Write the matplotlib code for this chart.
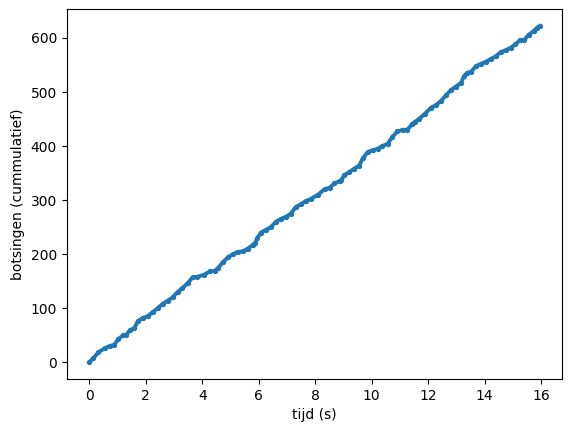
import numpy as np
import matplotlib
matplotlib.use("Agg")
from matplotlib import pyplot as plt

# tijd (s) en cumulatief aantal botsingen
tijd = [0.00, 0.14, 0.32, 0.55, 0.73, 0.88, 1.02, 1.20, 1.31, 1.43,
        1.60, 1.72, 1.90, 2.07, 2.25, 2.43, 2.60, 2.78, 2.95, 3.13,
        3.30, 3.48, 3.66, 3.83, 4.07, 4.27, 4.44, 4.56, 4.73, 4.91,
        5.09, 5.26, 5.44, 5.61, 5.79, 5.88, 5.94, 6.08, 6.26, 6.43,
        6.61, 6.78, 6.96, 7.14, 7.31, 7.49, 7.66, 7.84, 8.10, 8.33,
        8.51, 8.68, 8.86, 8.92, 9.03, 9.21, 9.38, 9.56, 9.68, 9.86,
        10.03, 10.21, 10.38, 10.56, 10.73, 10.91, 11.09, 11.26, 11.44, 11.54,
        11.67, 11.87, 12.10, 12.28, 12.46, 12.63, 12.81, 12.98, 13.16, 13.28,
        13.39, 13.51, 13.69, 13.86, 14.04, 14.21, 14.39, 14.57, 14.74, 14.92,
        15.09, 15.24, 15.39, 15.56, 15.74, 15.85, 15.95]
botsingen = [0, 7, 18, 26, 30, 32, 42, 50, 50, 59,
             63, 76, 82, 85, 93, 100, 108, 114, 120, 130,
             137, 146, 157, 158, 162, 168, 169, 174, 185, 194,
             200, 204, 205, 210, 217, 221, 229, 240, 245, 250,
             260, 265, 269, 275, 287, 292, 298, 302, 310, 320,
             323, 331, 335, 337, 346, 352, 358, 364, 377, 389,
             392, 395, 400, 404, 417, 427, 430, 430, 441, 445,
             450, 459, 471, 476, 484, 494, 504, 510, 517, 530,
             536, 537, 548, 552, 556, 561, 566, 574, 577, 582,
             588, 596, 596, 606, 613, 619, 622]

fig = plt.figure(figsize=(5.71, 4.32), dpi=100)
ax = fig.add_axes([0.1168, 0.1227, 0.868, 0.8558])
ax.plot(tijd, botsingen, 'o-', color='C0', markersize=2.8, linewidth=2.8)
ax.set_xlabel('tijd (s)')
ax.set_ylabel('botsingen (cummulatief)')
ax.set_xticks(np.arange(0, 17, 2))
ax.set_yticks(np.arange(0, 601, 100))
fig.savefig('out.png', dpi=100)
